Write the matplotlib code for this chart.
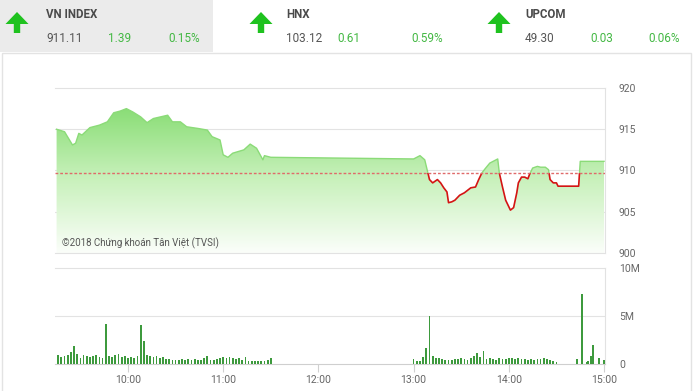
import numpy as np
import matplotlib
matplotlib.use("Agg")
import matplotlib.pyplot as plt
from matplotlib.colors import LinearSegmentedColormap
from matplotlib.patches import Rectangle, Polygon

plt.rcParams['font.family'] = ['Roboto', 'DejaVu Sans']

# --- banner ---
ten_chi_so = ["VN INDEX", "HNX", "UPCOM"]
gia_tri = ["911.11", "103.12", "49.30"]
thay_doi = ["1.39", "0.61", "0.03"]
phan_tram = ["0.15%", "0.59%", "0.06%"]

# --- VN-Index trong ngay ---
tham_chieu = 909.72
gio = ["09:15", "09:20", "09:25", "09:27", "09:29", "09:31", "09:36", "09:42", "09:47",
       "09:51", "09:55", "09:59", "10:03", "10:08", "10:12", "10:16", "10:25", "10:28",
       "10:33", "10:37", "10:44", "10:50", "10:53", "10:58", "11:00", "11:03", "11:06",
       "11:13", "11:17", "11:21", "11:25", "11:26", "11:30", "13:00", "13:04", "13:07",
       "13:09", "13:10", "13:12", "13:15", "13:17", "13:19", "13:21", "13:22", "13:24",
       "13:26", "13:29", "13:32", "13:36", "13:39", "13:41", "13:43", "13:45", "13:48",
       "13:52", "13:53", "13:54", "13:56", "13:58", "14:01", "14:03", "14:05", "14:06",
       "14:08", "14:10", "14:12", "14:13", "14:15", "14:18", "14:20", "14:23", "14:25",
       "14:26", "14:28", "14:30", "14:31", "14:44", "14:45", "15:00"]
diem = [915.0, 914.7, 913.1, 913.3, 914.5, 914.3, 915.2, 915.5, 915.9,
        917.0, 917.2, 917.5, 917.1, 916.5, 915.8, 916.3, 916.7, 915.9,
        915.9, 915.3, 915.1, 914.9, 914.1, 913.7, 911.9, 911.6, 912.1,
        912.5, 913.2, 912.7, 911.3, 911.8, 911.6, 911.4, 911.8, 911.3,
        909.7, 908.9, 908.5, 908.9, 908.5, 907.9, 907.4, 906.1, 906.2,
        906.4, 907.0, 907.3, 907.9, 908.0, 908.9, 909.7, 910.2, 910.9,
        911.3, 911.4, 909.7, 908.0, 906.4, 905.2, 905.5, 907.3, 908.5,
        909.2, 909.2, 909.0, 909.5, 910.3, 910.5, 910.4, 910.4, 910.1,
        908.9, 908.5, 908.5, 908.1, 908.1, 911.11, 911.11]

# --- khoi luong (trieu cp), moi 2 phut ---
kl_sang = [0.9, 0.7, 0.8, 0.9, 1.2, 1.9, 1.0, 0.6, 0.9, 0.8,
           0.7, 0.8, 0.9, 0.7, 0.6, 4.2, 0.8, 0.7, 0.9, 1.0,
           0.7, 0.8, 0.6, 0.7, 0.6, 0.8, 4.1, 2.4, 0.9, 0.8,
           0.7, 0.8, 0.6, 0.7, 0.5, 0.5, 0.4, 0.4, 0.4, 0.5,
           0.4, 0.5, 0.4, 0.5, 0.4, 0.4, 0.6, 0.8, 0.4, 0.4,
           0.5, 0.6, 0.7, 0.6, 0.7, 0.6, 0.5, 0.6, 0.4, 0.7,
           0.3, 0.3, 0.3, 0.3, 0.3, 0.3, 0.4, 0.6]
kl_chieu = [0.5, 0.3, 0.3, 0.7, 1.7, 5.0, 0.8, 0.6, 0.6, 0.5,
            0.4, 0.4, 0.4, 0.5, 0.5, 0.6, 0.5, 0.4, 0.6, 0.8,
            1.1, 0.7, 1.35, 0.5, 0.6, 0.5, 0.4, 0.6, 0.5, 0.5,
            0.6, 0.6, 0.5, 0.6, 0.5, 0.5, 0.4, 0.5, 0.4, 0.5,
            0.5, 0.6, 0.5, 0.4, 0.3, 0.2]
gio_atc = ["14:43", "14:46", "14:49", "14:50", "14:52", "14:53", "14:57", "15:00"]
kl_atc = [0.5, 7.3, 0.2, 0.3, 0.8, 2.0, 0.6, 0.4]

nhan_gio = ["10:00", "11:00", "12:00", "13:00", "14:00", "15:00"]


def phut(s):
    h, m = s.split(":")
    return int(h) * 60 + int(m)


t = np.array([phut(s) for s in gio])
p = np.array(diem)
t_kl = np.concatenate([phut("09:16") + 2 * np.arange(len(kl_sang)),
                       phut("13:00") + 2 * np.arange(len(kl_chieu)),
                       [phut(s) for s in gio_atc]])
kl = np.array(kl_sang + kl_chieu + kl_atc)

W, H = 694, 391
fig = plt.figure(figsize=(W / 100, H / 100), dpi=100)


def truc(x0, y0, x1, y1):
    return fig.add_axes([x0 / W, 1 - y1 / H, (x1 - x0) / W, (y1 - y0) / H])


nen = fig.add_axes([0, 0, 1, 1], zorder=0)
nen.set_xlim(0, W)
nen.set_ylim(H, 0)
nen.axis("off")
nen.add_patch(Rectangle((0, 0), 213, 52, color="#ebebeb", lw=0))
nen.add_patch(Rectangle((2, 53), 689, 340, fill=False, ec="#e3e3e3", lw=1))

xanh_mui_ten = "#1fc21f"
xanh_chu = "#43b843"
for k, (x_mt, x_tx, x_d, x_pt) in enumerate([(17, 46, 108, 200), (261, 286, 337, 443),
                                             (499, 525, 590, 680)]):
    cx = x_mt
    nen.add_patch(Polygon([(cx, 12), (cx + 11.5, 24), (cx + 3.2, 24), (cx + 3.2, 33),
                           (cx - 3.2, 33), (cx - 3.2, 24), (cx - 11.5, 24)],
                          closed=True, color=xanh_mui_ten, lw=0))
    nen.text(x_tx, 15, ten_chi_so[k], fontsize=8.3, fontweight="bold", color="#4a4a4a",
             va="center", ha="left")
    nen.text(x_tx, 38, gia_tri[k], fontsize=8.5, color="#555555", va="center", ha="left")
    nen.text(x_d, 38, thay_doi[k], fontsize=8.5, color=xanh_chu, va="center", ha="left")
    nen.text(x_pt, 38, phan_tram[k], fontsize=8.5, color=xanh_chu, va="center", ha="right")

xmin, xmax = 554, 900.6
vien = "#e2e2e2"
chu_truc = "#666666"

# --- bieu do gia ---
ax = truc(55, 88, 605, 253)
ax.set_zorder(2)
ax.set_facecolor("none")

cmap = LinearSegmentedColormap.from_list("g", ["#fbfefa", "#c8f1bb", "#86dc72"])
grad = np.linspace(0, 1, 256).reshape(-1, 1)
im = ax.imshow(grad, extent=[xmin, xmax, 900, 918], origin="lower", cmap=cmap,
               aspect="auto", zorder=1)
vung = ax.fill_between(t, p, 900, color="none", lw=0)
im.set_clip_path(vung.get_paths()[0], transform=ax.transData)

for y in [905, 910, 915]:
    ax.axhline(y, color="#e3e3e3", lw=0.8, zorder=0.5)

tren = Rectangle((xmin, tham_chieu), xmax - xmin, 30, transform=ax.transData)
duoi = Rectangle((xmin, tham_chieu - 30), xmax - xmin, 30, transform=ax.transData)
l1, = ax.plot(t, p, color="#8bdb78", lw=1.0, zorder=3)
l1.set_clip_path(tren)
l2, = ax.plot(t, p, color="#d41414", lw=1.2, zorder=3)
l2.set_clip_path(duoi)
ax.axhline(tham_chieu, color="#e06a6a", lw=1.0, ls=(0, (2, 1.4)), zorder=4)

ax.set_xlim(xmin, xmax)
ax.set_ylim(900, 920)
ax.yaxis.tick_right()
ax.set_yticks([900, 905, 910, 915, 920])
ax.tick_params(axis="y", length=0, pad=10, labelsize=7.5, labelcolor=chu_truc)
ax.set_xticks([])
ax.spines["left"].set_visible(False)
for s in ["top", "right", "bottom"]:
    ax.spines[s].set_color(vien)
ax.text(558.5, 901.2, "©2018 Chứng khoán Tân Việt (TVSI)", fontsize=7.0, color="#555555",
        va="center", ha="left", zorder=5)

# --- khoi luong ---
axv = truc(55, 268, 605, 364)
axv.set_zorder(2)
axv.set_facecolor("none")
axv.bar(t_kl, kl, width=1.1, color="#3d9a3d", lw=0, zorder=3)
axv.axhline(5, color="#e3e3e3", lw=0.8, zorder=0.5)
axv.set_xlim(xmin, xmax)
axv.set_ylim(0, 10)
axv.yaxis.tick_right()
axv.set_yticks([0, 5, 10])
axv.set_yticklabels(["0", "5M", "10M"])
axv.tick_params(axis="y", length=0, pad=10, labelsize=7.5, labelcolor=chu_truc)
axv.set_xticks([phut(s) for s in nhan_gio])
axv.set_xticklabels(nhan_gio)
axv.tick_params(axis="x", length=6, width=0.8, color="#d0d0d0", pad=2,
                labelsize=7.5, labelcolor=chu_truc)
axv.spines["left"].set_visible(False)
for s in ["top", "right"]:
    axv.spines[s].set_color(vien)
axv.spines["bottom"].set_color("#cfcfcf")

fig.savefig("out.png", dpi=100)
